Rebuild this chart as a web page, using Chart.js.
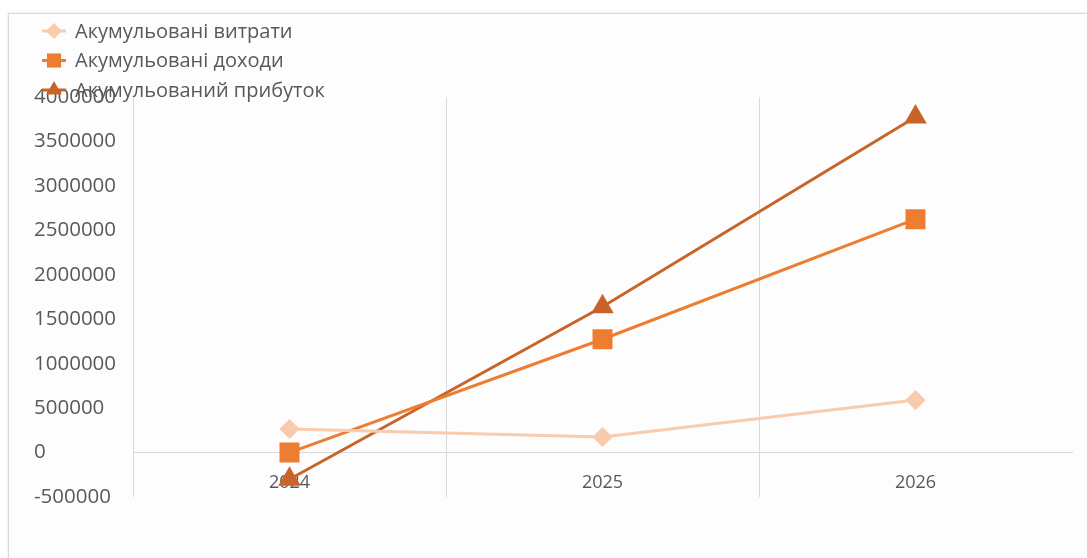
<!DOCTYPE html>
<html>
<head>
<meta charset="utf-8">
<script src="https://cdn.jsdelivr.net/npm/chart.js@4/dist/chart.umd.min.js"></script>
<style>
  html, body { margin: 0; padding: 0; background: #fff; }
  #ramka {
    position: absolute; left: 8px; top: 13px; width: 1090px; height: 560px;
    border-top: 1px solid #d9d9d9; border-left: 1px solid #d9d9d9;
    box-shadow: 0 0 2px rgba(0,0,0,0.12);
    background: #fdfdfd;
  }
  #wrap { position: absolute; left: 0; top: 0; width: 1087px; height: 558px; }
</style>
</head>
<body>
<div id="ramka"></div>
<div id="wrap"><canvas id="grafik" width="1087" height="558"></canvas></div>
<script>
// Дані графіка
const roky = ["2024", "2025", "2026"];
const vytraty = [265000, 175000, 590000];
const dokhody = [0, 1275000, 2625000];
const prybutok = [-300000, 1640000, 3775000];
const yTicks = [-500000, 0, 500000, 1000000, 1500000, 2000000, 2500000, 3000000, 3500000, 4000000];

const shryft = "'Open Sans', 'Noto Sans', sans-serif";
const sirYi = "#595959";

// Легенда вертикальним списком у лівому верхньому куті
const legendaPlugin = {
  id: "legenda",
  afterDraw(chart) {
    const c = chart.ctx;
    c.save();
    chart.data.datasets.forEach((ds, i) => {
      const y = 31 + i * 29.5;
      c.strokeStyle = ds.borderColor;
      c.lineWidth = 3;
      c.beginPath();
      c.moveTo(42, y);
      c.lineTo(66, y);
      c.stroke();
      c.fillStyle = ds.pointBackgroundColor;
      c.strokeStyle = ds.pointBackgroundColor;
      Chart.helpers.drawPoint(c, { pointStyle: ds.pointStyle, radius: ds.legendRadius, borderWidth: 0 }, 54, y);
      c.fillStyle = sirYi;
      c.font = "20px " + shryft;
      c.textBaseline = "middle";
      c.textAlign = "left";
      c.fillText(ds.label, 75, y + 1);
    });
    c.restore();
  }
};

new Chart(document.getElementById("grafik"), {
  type: "line",
  data: {
    labels: roky,
    datasets: [
      {
        label: "Акумульовані витрати",
        data: vytraty,
        borderColor: "#F8CBAD",
        pointBackgroundColor: "#F8CBAD",
        pointBorderColor: "#F8CBAD",
        pointStyle: "rectRot",
        pointRadius: 8,
        legendRadius: 8,
        borderWidth: 3
      },
      {
        label: "Акумульовані доходи",
        data: dokhody,
        borderColor: "#ED7D31",
        pointBackgroundColor: "#ED7D31",
        pointBorderColor: "#ED7D31",
        pointStyle: "rect",
        pointRadius: 12,
        legendRadius: 10,
        borderWidth: 3
      },
      {
        label: "Акумульований прибуток",
        data: prybutok,
        borderColor: "#C8642A",
        pointBackgroundColor: "#C8642A",
        pointBorderColor: "#C8642A",
        pointStyle: "triangle",
        pointRadius: 10,
        legendRadius: 9,
        borderWidth: 3
      }
    ]
  },
  options: {
    responsive: false,
    animation: false,
    layout: { padding: { left: 34, top: 97, right: 14, bottom: 61 } },
    plugins: {
      legend: { display: false },
      tooltip: { enabled: false }
    },
    scales: {
      x: {
        position: { y: 0 },
        offset: true,
        grid: {
          offset: true,
          drawTicks: false,
          color: c => (c.index === undefined ? "rgba(0,0,0,0)" : "#d9d9d9"),
          lineWidth: 1
        },
        border: { color: "#d9d9d9", width: 1 },
        ticks: { color: sirYi, font: { family: shryft, size: 18 }, padding: 20 }
      },
      y: {
        min: -500000,
        max: 4000000,
        afterFit: s => { s.width = 99; },
        afterBuildTicks: s => { s.ticks = yTicks.map(v => ({ value: v })); },
        grid: { display: false },
        border: { display: false },
        ticks: {
          color: sirYi,
          crossAlign: "far",
          font: { family: shryft, size: 20.5 },
          callback: v => String(v)
        }
      }
    }
  },
  plugins: [legendaPlugin]
});
</script>
</body>
</html>
